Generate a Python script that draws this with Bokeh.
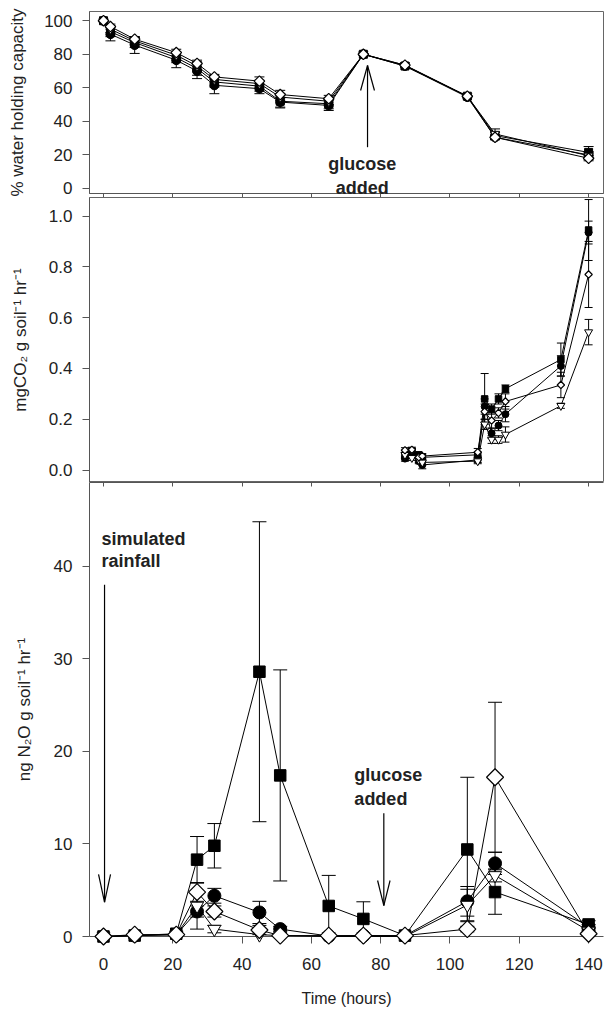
from bokeh.plotting import figure
from bokeh.layouts import column
from bokeh.models import (ColumnDataSource, Whisker, TeeHead, FixedTicker, Range1d,
                          NumeralTickFormatter, LinearAxis, CustomJSTickFormatter)
from bokeh.core.properties import value
from bokeh.embed import file_html
from bokeh.resources import INLINE

FONT = "Liberation Sans"

# ---------------- data ----------------
x_ticks = [0, 20, 40, 60, 80, 100, 120, 140]

# % water holding capacity
times_w = [0, 2, 9, 21, 27, 32, 45, 51, 65, 75, 87, 105, 113, 140]
sq_w = [100, 93.5, 87, 78, 71.5, 63.5, 61, 52, 50.5, 80, 73, 55, 31.5, 21.5]
ci_w = [100, 92, 85.5, 76.5, 70, 61.5, 59.5, 51.5, 49.5, 80, 73, 54.5, 30.5, 20]
tr_w = [100, 95, 88, 79.5, 73, 65, 62.5, 54.5, 52, 80, 73.5, 55, 32.5, 19.5]
di_w = [100, 96.5, 89, 81, 74.5, 66.5, 64, 56, 53.5, 80, 73.5, 55, 30.5, 18]
sq_we = [0, 3, 3, 3, 4, 3, 3, 4, 3, 0, 0, 0, 2, 3.5]
ci_we = [0, 4, 5, 4.5, 4.5, 5, 3, 3, 3, 0, 0, 0, 1.5, 2]
tr_we = [0, 2, 2, 2, 2, 2, 2, 2, 2, 0, 0, 0, 3, 2]
di_we = [0, 1.5, 1.5, 2, 2, 1.5, 2.5, 2.5, 2, 0, 0, 0, 1, 1.5]
w_ticks = [0, 20, 40, 60, 80, 100]

# CO2 flux
times_c = [87, 89, 91, 92, 108, 110, 112, 114, 116, 132, 140]
sq_c = [0.055, 0.075, 0.06, 0.05, 0.06, 0.28, 0.24, 0.28, 0.32, 0.435, 0.945]
ci_c = [0.045, 0.06, 0.035, 0.02, 0.04, 0.25, 0.145, 0.175, 0.22, 0.41, 0.935]
tr_c = [0.06, 0.048, 0.04, 0.03, 0.035, 0.18, 0.12, 0.12, 0.14, 0.253, 0.543]
di_c = [0.078, 0.08, 0.05, 0.055, 0.07, 0.23, 0.195, 0.225, 0.27, 0.335, 0.77]
sq_ce = [0.01, 0.01, 0.01, 0.01, 0.01, 0.1, 0.02, 0.02, 0.015, 0.065, 0.12]
ci_ce = [0.01, 0.01, 0.01, 0.015, 0.01, 0.03, 0.02, 0.02, 0.03, 0.04, 0.045]
tr_ce = [0.01, 0.01, 0.01, 0.01, 0.01, 0.02, 0.015, 0.015, 0.03, 0.01, 0.05]
di_ce = [0.01, 0.01, 0.01, 0.01, 0.015, 0.03, 0.03, 0.02, 0.03, 0.05, 0.13]
c_ticks = [0.0, 0.2, 0.4, 0.6, 0.8, 1.0]

# N2O flux
times_n = [0, 9, 21, 27, 32, 45, 51, 65, 75, 87, 105, 113, 140]
sq_n = [0, 0.1, 0.3, 8.3, 9.8, 28.6, 17.4, 3.3, 1.9, 0.1, 9.4, 4.8, 1.3]
ci_n = [0, 0.1, 0.2, 2.7, 4.4, 2.6, 0.8, 0.05, 0.1, 0.1, 3.8, 7.9, 1.0]
tr_n = [0, 0.1, 0.2, 3.3, 0.8, 0.2, 0.1, 0, 0, 0, 3.4, 6.6, 0.6]
di_n = [0, 0.2, 0.2, 4.8, 2.7, 0.7, 0.1, 0.1, 0.1, 0.1, 0.8, 17.2, 0.3]
sq_ne = [0, 0, 0.2, 2.5, 2.4, 16.2, 11.4, 3.3, 1.85, 0, 7.8, 2.4, 0.4]
ci_ne = [0, 0, 0.1, 0.6, 0.8, 1.2, 0.3, 0, 0, 0, 1.6, 1.2, 0.3]
tr_ne = [0, 0, 0.1, 2.5, 0.4, 0.3, 0, 0, 0, 0, 1.7, 0.7, 0.3]
di_ne = [0, 0, 0.1, 1.0, 0.6, 0.5, 0.1, 0, 0, 0, 0.3, 8.1, 0.3]
n_ticks = [0, 10, 20, 30, 40]

# ---------------- layout ----------------
X0, X1 = -4.04, 144.3
W = 604
AX = "#555555"
TXT = "#222222"


def style_left(p, ticks, label, standoff, fmt=None):
    ax = p.yaxis[0]
    ax.ticker = FixedTicker(ticks=ticks)
    if fmt:
        ax.formatter = NumeralTickFormatter(format=fmt)
    ax.axis_label = label
    ax.axis_label_text_font = FONT
    ax.axis_label_text_font_size = "17px"
    ax.axis_label_text_font_style = "normal"
    ax.axis_label_text_color = TXT
    ax.axis_label_standoff = standoff
    ax.major_label_text_font = FONT
    ax.major_label_text_font_size = "17px"
    ax.major_label_text_color = TXT
    ax.major_label_standoff = 10
    ax.major_tick_out = 7
    ax.major_tick_in = 0
    ax.minor_tick_line_color = None
    ax.axis_line_color = AX
    ax.major_tick_line_color = AX


def blank_xaxis(t_in, t_out):
    ax = LinearAxis(ticker=FixedTicker(ticks=x_ticks),
                    formatter=CustomJSTickFormatter(code="return ''"))
    ax.major_label_text_font_size = "1px"
    ax.major_label_standoff = 0
    ax.major_tick_in = t_in
    ax.major_tick_out = t_out
    ax.minor_tick_line_color = None
    ax.axis_line_color = AX
    ax.major_tick_line_color = AX
    return ax


def make_fig(h, y0, y1, top, bottom):
    p = figure(width=W, height=h, x_range=Range1d(X0, X1), y_range=Range1d(y0, y1),
               output_backend="svg", toolbar_location=None, x_axis_location=None,
               min_border_left=89, min_border_right=1, min_border_top=top,
               min_border_bottom=bottom)
    p.grid.visible = False
    p.background_fill_color = "white"
    p.border_fill_color = "white"
    return p


def add_series(p, t, ys, errs, kinds, msize, head, lvl="overlay"):
    for y, e, kind in zip(ys, errs, kinds):
        src = ColumnDataSource(dict(t=t, y=y))
        wt = [ti for ti, ei in zip(t, e) if ei > 0]
        wu = [yi + ei for yi, ei in zip(y, e) if ei > 0]
        wl = [yi - ei for yi, ei in zip(y, e) if ei > 0]
        ws = ColumnDataSource(dict(t=wt, up=wu, lo=wl))
        p.add_layout(Whisker(source=ws, base="t", upper="up", lower="lo",
                             line_color="black", line_width=1,
                             upper_head=TeeHead(size=head, line_color="black", line_width=1),
                             lower_head=TeeHead(size=head, line_color="black", line_width=1)))
        p.line("t", "y", source=src, line_color="black", line_width=1, level=lvl)
    for y, kind in zip(ys, kinds):
        src = ColumnDataSource(dict(t=t, y=y))
        s = msize[kind]
        if kind == "sq":
            p.scatter("t", "y", source=src, marker="square", size=s, fill_color="black",
                      line_color="black", level=lvl)
        elif kind == "ci":
            p.scatter("t", "y", source=src, marker="circle", size=s, fill_color="black",
                      line_color="black", level=lvl)
        elif kind == "tr":
            p.scatter("t", "y", source=src, marker="inverted_triangle", size=s,
                      fill_color="white", line_color="black", line_width=1, level=lvl)
        else:
            p.scatter("t", "y", source=src, marker="square", angle=0.7853981634, size=s,
                      fill_color="white", line_color="black", line_width=1.2, level=lvl)


def add_arrow(p, x, y_tail, y_tip, half_w, head_len):
    sgn = 1 if y_tip > y_tail else -1
    yb = y_tip - sgn * head_len
    p.segment(x0=[x, x - half_w, x + half_w], y0=[y_tail, yb, yb],
              x1=[x, x, x], y1=[y_tip, y_tip, y_tip], line_color="black",
              line_width=1.2, level="overlay")


def add_text(p, x, y, lines, align, dy):
    p.text(x=[x] * len(lines), y=[y - i * dy for i in range(len(lines))], text=lines,
           text_font=value(FONT), text_font_style="bold", text_font_size="18px",
           text_color=TXT, text_align=align, text_baseline="alphabetic", level="overlay")


kinds = ["sq", "ci", "tr", "di"]

# ---- panel 1: water holding capacity ----
p1 = make_fig(197, -3, 105.5, 11, 4)
p1.add_layout(blank_xaxis(0, 4), "below")
style_left(p1, w_ticks, "% water holding capacity", 14)
p1.outline_line_color = "#666666"
add_series(p1, times_w, [sq_w, ci_w, tr_w, di_w], [sq_we, ci_we, tr_we, di_we], kinds,
           {"sq": 8, "ci": 9, "tr": 9, "di": 7.5}, 10)
add_arrow(p1, 76.2, 24.6, 73.3, 2.0, 14.9)
add_text(p1, 74.7, 14.5, ["glucose", "added"], "center", 14.0)

# ---- panel 2: CO2 ----
p2 = make_fig(285, -0.049, 1.073, 0, 0)
style_left(p2, c_ticks, "mgCO₂ g soil⁻¹ hr⁻¹", 16, "0.0")
p2.outline_line_color = "#666666"
add_series(p2, times_c, [sq_c, ci_c, tr_c, di_c], [sq_ce, ci_ce, tr_ce, di_ce], kinds,
           {"sq": 6.5, "ci": 7, "tr": 8, "di": 5.2}, 8)

# ---- panel 3: N2O ----
p3 = make_fig(527, 0, 49.04, 0, 73)
style_left(p3, n_ticks, "ng N₂O g soil⁻¹ hr⁻¹", 17)
p3.outline_line_color = None
p3.add_layout(blank_xaxis(4, 0), "above")
bx = LinearAxis(ticker=FixedTicker(ticks=x_ticks))
bx.axis_label = "Time (hours)"
bx.axis_label_text_font = FONT
bx.axis_label_text_font_size = "16px"
bx.axis_label_text_font_style = "normal"
bx.axis_label_text_color = TXT
bx.axis_label_standoff = 17
bx.major_label_text_font = FONT
bx.major_label_text_font_size = "17px"
bx.major_label_text_color = TXT
bx.major_label_standoff = 14
bx.major_tick_out = 7
bx.major_tick_in = 0
bx.minor_tick_line_color = None
bx.axis_line_color = AX
bx.major_tick_line_color = AX
p3.add_layout(bx, "below")
add_series(p3, times_n, [sq_n, ci_n, tr_n, di_n], [sq_ne, ci_ne, tr_ne, di_ne], kinds,
           {"sq": 11.5, "ci": 13, "tr": 13, "di": 12}, 14)
add_arrow(p3, 0.3, 38.0, 3.7, 1.73, 3.0)
add_arrow(p3, 80.9, 13.3, 3.35, 1.8, 2.7)
add_text(p3, -0.6, 42.9, ["simulated", "rainfall"], "left", 2.3)
add_text(p3, 72.4, 17.4, ["glucose", "added"], "left", 2.5)

layout = column(p1, p2, p3, spacing=0)
open("out.html", "w").write(file_html(layout, INLINE))
